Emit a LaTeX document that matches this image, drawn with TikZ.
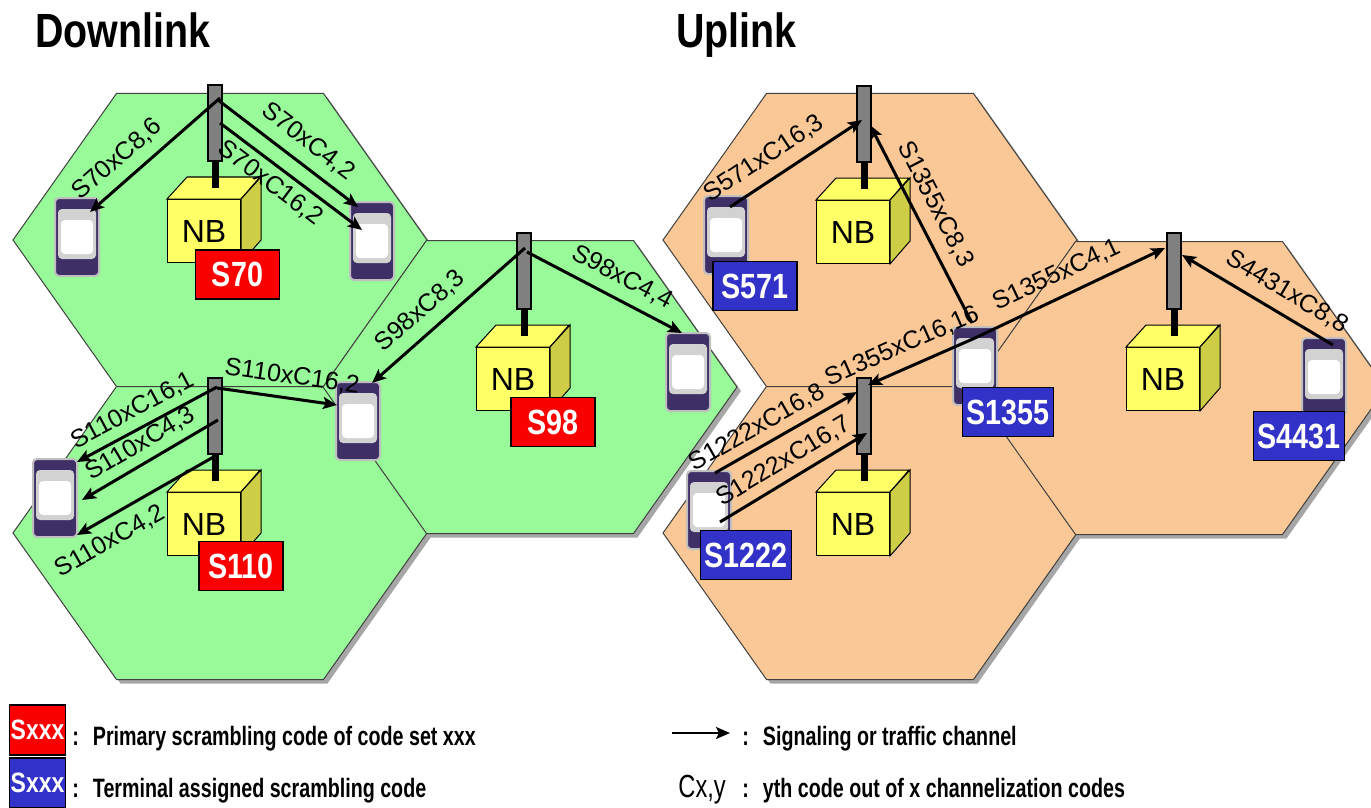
\documentclass[tikz,border=0pt]{standalone}
\usepackage{fontspec}
\setmainfont{Liberation Sans}
\newfontfamily\narrowsf[FakeStretch=0.82]{Liberation Sans}
\newfontfamily\narrowersf[FakeStretch=0.74]{Liberation Sans}
\usetikzlibrary{arrows.meta}

\definecolor{cellgreen}{RGB}{152,250,152}
\definecolor{cellorange}{RGB}{250,200,150}
\definecolor{nbyellow}{RGB}{255,255,102}
\definecolor{nbside}{RGB}{205,205,70}
\definecolor{pcred}{RGB}{250,0,0}
\definecolor{tcblue}{RGB}{50,50,200}
\definecolor{uebody}{RGB}{62,48,102}

\tikzset{
	hexcell/.pic={\path[pic actions] (-207,0) -- (-103.5,-146.5) -- (103.5,-146.5) -- (207,0) -- (103.5,146.5) -- (-103.5,146.5) -- cycle;},
	mast/.style={draw, fill=gray, line width=0.6pt, minimum width=7pt, minimum height=38pt, inner sep=0pt},
	nbfront/.style={draw, fill=nbyellow, line width=0.5pt, minimum width=36.5pt, minimum height=31.5pt, inner sep=0pt, font=\fontsize{16}{16}\selectfont},
	pcode/.style={draw, fill=pcred, text=white, line width=0.6pt, minimum width=42pt, minimum height=24.5pt, inner xsep=2pt, inner ysep=0pt, font=\narrowsf\bfseries\fontsize{17.5}{17.5}\selectfont},
	tcode/.style={pcode, fill=tcblue},
	ue/.style={rectangle, rounded corners=2pt, draw=gray!50, line width=1pt, fill=uebody, minimum width=22pt, minimum height=39pt, inner sep=0pt,
		path picture={
			\fill[gray!35] ([shift={(3,11)}]path picture bounding box.north west) rectangle ([shift={(-3,-17)}]path picture bounding box.south east);
			\fill[white] ([shift={(6,22)}]path picture bounding box.north west) rectangle ([shift={(-6,-22)}]path picture bounding box.south east);
		}},
	sig/.style={line width=1.5pt, -{Stealth[length=7pt,width=6pt,inset=1.5pt]}},
	clab/.style={sloped, inner sep=5pt, font=\fontsize{12.5}{12.5}\selectfont},
	legtxt/.style={anchor=base west, inner sep=0pt, font=\narrowersf\bfseries\fontsize{13.3}{15}\selectfont},
}

\begin{document}
\begin{tikzpicture}[x=0.5pt, y=-0.5pt]
	\useasboundingbox (0,0) rectangle (1371,808);
	\clip (0,0) rectangle (1371,808);

	%Cells
	\foreach \cx/\cy in {220/240, 220/533, 530/387, 870/240, 870/533, 1179/388}
		\pic[fill=black!35] at ({\cx+4},{\cy+4}) {hexcell};
	\foreach \cx/\cy/\col in {220/240/cellgreen, 220/533/cellgreen, 530/387/cellgreen, 870/240/cellorange, 870/533/cellorange, 1179/388/cellorange}
		\pic[fill=\col, draw=black!75, line width=0.5pt] at (\cx,\cy) {hexcell};

	\node[anchor=base west, inner sep=0pt, font=\narrowsf\bfseries\fontsize{24}{24}\selectfont] (tdl) at (35,48) {Downlink};
	\node[anchor=base west, inner sep=0pt, font=\narrowsf\bfseries\fontsize{24}{24}\selectfont] (tul) at (676,48) {Uplink};

	%Node B with mast
	\foreach \n/\x/\y in {d1/215/123, d2/215/416, d3/524/271, u1/864/124, u2/864/416, u3/1174/271} {
		\node[mast] (m\n) at (\x,\y) {};
		\node[nbfront] (nb\n) at ({\x-11},{\y+108}) {NB};
		\filldraw[fill=nbyellow, line width=0.5pt] (nb\n.north west) -- ++(10pt,11pt) -- ++(36.5pt,0pt) -- (nb\n.north east) -- cycle;
		\filldraw[fill=nbside, line width=0.5pt] (nb\n.north east) -- ++(10pt,11pt) -- ++(0pt,-31.5pt) -- (nb\n.south east) -- cycle;
		\draw[line width=3.5pt] (m\n.south) -- ++(0pt,-13pt);
	}
	\node[pcode] (pc70) at (237.5,274.5) {S70};
	\node[pcode] (pc110) at (241,566) {S110};
	\node[pcode] (pc98) at (553,422) {S98};

	%Terminals
	\node[ue] (ue1) at (77,237) {};
	\node[ue] (ue2) at (372,241) {};
	\node[ue] (ue3) at (55,498) {};
	\node[ue] (ue4) at (358,421) {};
	\node[ue] (ue5) at (688,372) {};
	\node[ue] (ue6) at (726,235) {};
	\node[ue] (ue7) at (975,366) {};
	\node[ue] (ue8) at (709,510) {};
	\node[ue] (ue9) at (1324,377) {};
	\node[tcode] (tc571) at (755,286) {S571};
	\node[tcode] (tc1355) at (1008,412) {S1355};
	\node[tcode] (tc1222) at (746,555) {S1222};
	\node[tcode] (tc4431) at (1299,436) {S4431};

	%Downlink channels
	\draw[sig] ([shift={(5,-25)}]md1.center) -- node[clab, above, pos=.68] {S70xC8,6} ([shift={(13,-25)}]ue1.center);
	\draw[sig] ([shift={(3,-23)}]md1.center) -- node[clab, above, pos=.55] {S70xC4,2} ([shift={(-14,-34)}]ue2.center);
	\draw[sig] ([shift={(5,0)}]md1.center) -- node[clab, below, inner sep=3pt, pos=.43] {S70xC16,2} ([shift={(-10,-11)}]ue2.center);
	\draw[sig] ([shift={(2,-29)}]md2.center) -- node[clab, above, inner sep=3.5pt, pos=.54] {S110xC16,1} ([shift={(22,-36)}]ue3.center);
	\draw[sig] ([shift={(3,4)}]md2.center) -- node[clab, above, inner sep=3.5pt, pos=.5] {S110xC4,3} ([shift={(27,2)}]ue3.center);
	\draw[sig] ([shift={(2,39)}]md2.center) -- node[clab, below, pos=.84] {S110xC4,2} ([shift={(22,37)}]ue3.center);
	\draw[sig] ([shift={(2,-28)}]md2.center) -- node[clab, above, pos=.6] {S110xC16,2} ([shift={(-21,-16)}]ue4.center);
	\draw[sig] ([shift={(1,-23)}]md3.center) -- node[clab, above, pos=.59] {S98xC8,3} ([shift={(14,-38)}]ue4.center);
	\draw[sig] ([shift={(3,-19)}]md3.center) -- node[clab, above, pos=.55] {S98xC4,4} ([shift={(-6,-39)}]ue5.center);

	%Uplink channels
	\draw[sig] ([shift={(4,-28)}]ue6.center) -- node[clab, above, pos=.35] {S571xC16,3} ([shift={(-2,-4)}]mu1.center);
	\draw[sig] ([shift={(-3,-43)}]ue7.center) -- node[clab, above, pos=.55] {S1355xC8,3} ([shift={(6,1)}]mu1.center);
	\draw[sig] ([shift={(0,-28)}]ue7.center) -- node[clab, above, pos=.6] {S1355xC16,16} ([shift={(4,-31)}]mu2.center);
	\draw[sig] ([shift={(0,-28)}]ue7.center) -- node[clab, above, pos=.48] {S1355xC4,1} ([shift={(-9,-23)}]mu3.center);
	\draw[sig] ([shift={(6,-37)}]ue8.center) -- node[clab, above, inner sep=3.5pt, pos=.36] {S1222xC16,8} ([shift={(-7,-24)}]mu2.center);
	\draw[sig] ([shift={(11,12)}]ue8.center) -- node[clab, above, inner sep=3.5pt, pos=.5] {S1222xC16,7} ([shift={(3,17)}]mu2.center);
	\draw[sig] ([shift={(9,-32)}]ue9.center) -- node[clab, above, pos=.38] {S4431xC8,8} ([shift={(8,-16)}]mu3.center);

	%Legend
	\node[pcode, minimum width=28pt, minimum height=25pt, inner xsep=0pt, font=\narrowsf\bfseries\fontsize{14}{14}\selectfont] (lgp) at (37.5,730) {Sxxx};
	\node[tcode, minimum width=28pt, minimum height=25pt, inner xsep=0pt, font=\narrowsf\bfseries\fontsize{14}{14}\selectfont] (lgt) at (37.5,783) {Sxxx};
	\node[legtxt] (lgpt) at (72,745) {:\hspace{7pt}Primary scrambling code of code set xxx};
	\node[legtxt] (lgtt) at (72,797) {:\hspace{7pt}Terminal assigned scrambling code};
	\coordinate (lgs) at (672,733);
	\coordinate (lge) at (730,733);
	\draw[sig, line width=1.2pt] (lgs) -- (lge);
	\node[legtxt] (lgst) at (742,745) {:\hspace{7pt}Signaling or traffic channel};
	\node[anchor=base west, inner sep=0pt, font=\narrowersf\fontsize{16}{16}\selectfont] (lgc) at (678,797) {Cx,y};
	\node[legtxt] (lgct) at (742,797) {:\hspace{7pt}yth code out of x channelization codes};
\end{tikzpicture}
\end{document}
